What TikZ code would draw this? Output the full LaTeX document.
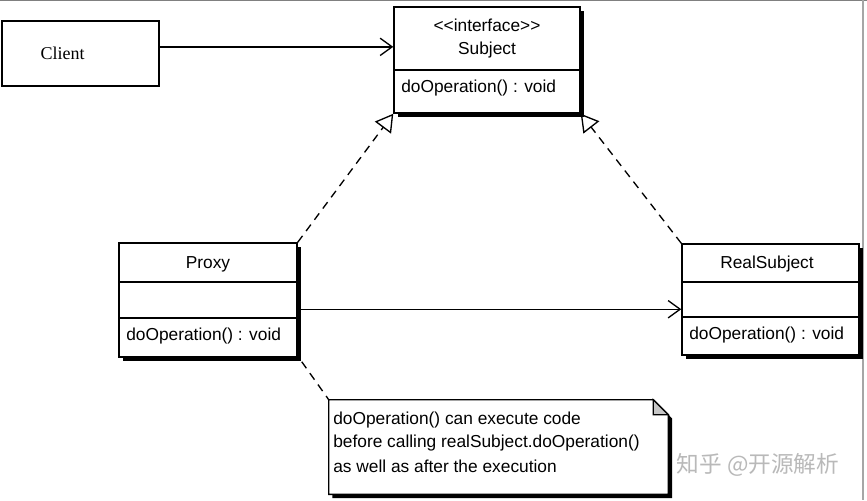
\documentclass[tikz,border=0pt]{standalone}
\usepackage{fontspec}
\setmainfont{Liberation Sans}
\newfontfamily\clientfont{Liberation Serif}
\newfontfamily\cjk{Noto Sans CJK SC}
\usetikzlibrary{arrows.meta,fit,shadows,calc}
\tikzset{
  px/.style={x=0.75pt,y=-0.75pt},
  umlbox/.style={draw, line width=1.1pt, fill=white, inner sep=0pt,
    general shadow={fill=black, shadow xshift=2.8pt, shadow yshift=-2.8pt}},
  plainbox/.style={draw, line width=1.1pt, fill=white, inner sep=0pt},
  divider/.style={line width=0.9pt},
  txt/.style={font=\fontsize{13}{15}\selectfont, inner sep=0pt},
  assoc/.style={line width=1pt, -{Straight Barb[length=9pt,width=13pt,line width=1pt]}},
  realize/.style={line width=1pt, dash pattern=on 6pt off 4.5pt,
    -{Triangle[open,length=13pt,width=15pt,line width=1pt]}},
  notelink/.style={line width=1pt, dash pattern=on 6pt off 4.5pt},
}
\begin{document}
\begin{tikzpicture}[px]
\useasboundingbox (0,0) rectangle (867,500);
\fill[white] (0,0) rectangle (867,500);
% frame lines at top and right
\draw[gray, line width=1.1pt] (0,0.5) -- (867,0.5);
\draw[gray!70, line width=1.1pt] (863,0) -- (863,500);

% Client
\node[plainbox, fit={(2,21) (159,86)}] (client) {};
\node[font=\clientfont\fontsize{13.5}{15}\selectfont, inner sep=0pt] (clientlbl) at (62.5,53) {Client};

% Subject
\node[umlbox, fit={(394,7) (580,113)}] (subject) {};
\draw[divider] (subject.west |- 0,70) -- (subject.east |- 0,70);
\node[txt] (subjst) at (487,25) {\hbox{<}\hbox{<}interface\hbox{>}\hbox{>}};
\node[txt] (subjname) at (487,50) {Subject};
\node[txt, anchor=west] (subjop) at (401,88) {doOperation() : void};

% Proxy
\node[umlbox, fit={(119,243) (297,357)}] (proxy) {};
\draw[divider] (proxy.west |- 0,282) -- (proxy.east |- 0,282);
\draw[divider] (proxy.west |- 0,318) -- (proxy.east |- 0,318);
\node[txt] (proxyname) at (208,264) {Proxy};
\node[txt, anchor=west] (proxyop) at (126,336) {doOperation() : void};

% RealSubject
\node[umlbox, fit={(682,244) (859,355)}] (real) {};
\draw[divider] (real.west |- 0,282) -- (real.east |- 0,282);
\draw[divider] (real.west |- 0,317) -- (real.east |- 0,317);
\node[txt] (realname) at (767,264) {RealSubject};
\node[txt, anchor=west] (realop) at (689,335) {doOperation() : void};

% Note
\node[inner sep=0pt, fit={(329,400) (668,494)}] (note) {};
\fill[black] ([shift={(2.8pt,-2.8pt)}]note.north west)
  -- ([shift={(-8.5pt,-2.8pt)}]note.north east)
  -- ([shift={(2.8pt,-14pt)}]note.north east)
  -- ([shift={(2.8pt,-2.8pt)}]note.south east)
  -- ([shift={(2.8pt,-2.8pt)}]note.south west) -- cycle;
\filldraw[fill=white, line width=1.1pt] (note.north west)
  -- ([xshift=-11.25pt]note.north east)
  -- ([yshift=-11.25pt]note.north east)
  -- (note.south east) -- (note.south west) -- cycle;
\filldraw[fill=gray!45, line width=1pt] ([xshift=-11.25pt]note.north east)
  -- ([xshift=-11.25pt,yshift=-11.25pt]note.north east)
  -- ([yshift=-11.25pt]note.north east) -- cycle;
\node[txt, anchor=west] (n1) at (333,420) {doOperation() can execute code};
\node[txt, anchor=west] (n2) at (333,443) {before calling realSubject.doOperation()};
\node[txt, anchor=west] (n3) at (333,466) {as well as after the execution};

% Connectors
\coordinate (cl) at ($(client.north east)!0.4!(client.south east)$);
\draw[assoc] (cl) -- (cl -| subject.west);
\coordinate (pr) at ($(proxy.north east)!0.58!(proxy.south east)$);
\draw[assoc] (pr) -- (pr -| real.west);
\draw[realize] (proxy.north east) -- (subject.south west);
\draw[realize] (real.north west) -- (subject.south east);
\draw[notelink] ([shift={(3pt,-3pt)}]proxy.south east) -- (note.north west);

% Watermark
\node[font=\cjk\fontsize{17}{19}\selectfont, text=gray!55, inner sep=0pt] (wm) at (758,465) {知乎 @开源解析};
\end{tikzpicture}
\end{document}
